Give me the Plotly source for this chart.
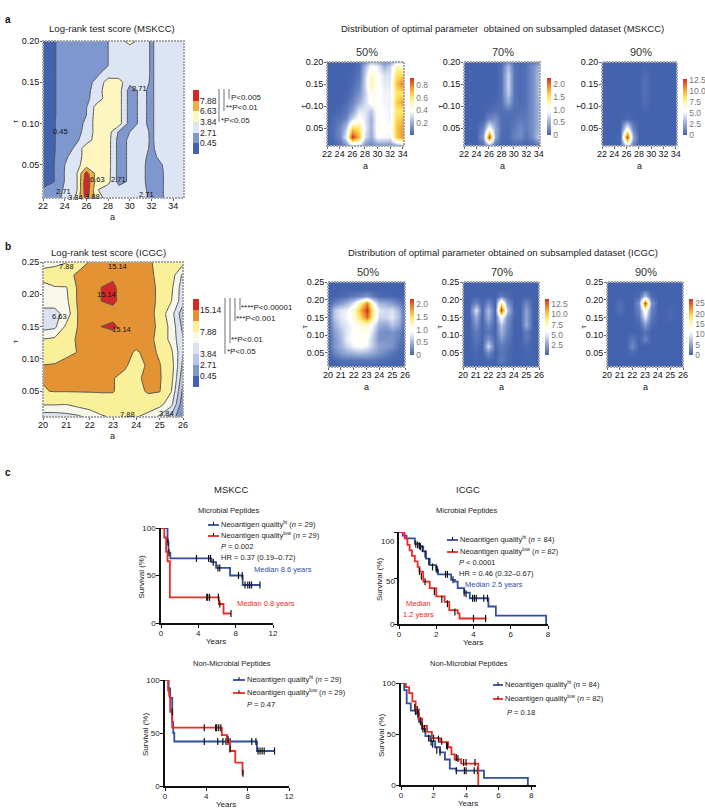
"""Neoantigen quality figure: log-rank score maps, subsampling densities and survival curves."""

import numpy as np
import plotly.graph_objects as go

W, H = 705, 810
FONT = "Liberation Sans"
INK = "#222222"
BLUE = "#2f4f9f"
RED = "#ee2a24"

# Log-rank score maps
MSK_A = list(range(22, 36))
MSK_TAU = [round(0.01 * i, 2) for i in range(1, 21)]
MSK_SCORE = [
    [0.6, 2.0, 2.9, 4.2, 9.5, 5.0, 3.4, 3.2, 3.2, 3.2, 2.2, 2.6, 3.2, 3.2],
    [0.6, 2.0, 2.8, 3.3, 11.0, 4.0, 3.2, 3.2, 3.2, 3.0, 2.2, 2.6, 3.2, 3.2],
    [0.2, 0.35, 2.75, 3.3, 11.0, 5.2, 4.8, 1.8, 2.9, 2.9, 2.2, 2.6, 3.2, 3.2],
    [0.2, 0.4, 2.75, 3.4, 9.5, 5.2, 4.9, 1.8, 2.9, 2.9, 2.2, 2.6, 3.2, 3.2],
    [0.2, 0.4, 2.71, 3.4, 5.2, 5.5, 5.0, 1.8, 2.9, 2.9, 2.2, 2.7, 3.2, 3.2],
    [0.2, 0.35, 2.3, 3.2, 5.0, 5.5, 5.0, 1.8, 2.9, 3.0, 2.2, 3.0, 3.3, 3.3],
    [0.2, 0.35, 1.5, 2.9, 5.5, 5.5, 5.0, 1.8, 2.9, 3.3, 2.3, 3.3, 3.3, 3.3],
    [0.2, 0.35, 1.5, 2.2, 3.3, 5.2, 5.0, 1.8, 2.9, 3.3, 2.4, 3.3, 3.3, 3.3],
    [0.3, 0.35, 1.5, 2.0, 3.0, 5.2, 5.2, 2.4, 2.7, 3.2, 2.4, 3.3, 3.3, 3.3],
    [0.3, 0.35, 1.5, 1.9, 2.9, 5.5, 5.5, 5.0, 1.8, 2.9, 2.4, 3.3, 3.3, 3.3],
    [0.2, 0.3, 1.5, 1.8, 2.7, 5.5, 5.5, 5.0, 1.8, 2.9, 2.4, 3.3, 3.3, 3.3],
    [0.2, 0.3, 1.5, 1.8, 2.6, 5.2, 5.5, 5.0, 1.8, 2.9, 2.4, 3.3, 3.3, 3.3],
    [0.2, 0.3, 1.5, 1.8, 2.2, 3.3, 5.2, 5.0, 1.8, 2.9, 2.4, 3.3, 3.3, 3.3],
    [0.2, 0.3, 1.5, 1.8, 2.0, 3.3, 5.5, 5.0, 1.8, 2.9, 2.4, 3.3, 3.3, 3.3],
    [0.2, 0.3, 1.5, 1.8, 2.0, 3.0, 5.2, 5.0, 3.0, 3.3, 2.4, 3.3, 3.3, 3.3],
    [0.2, 0.3, 1.5, 1.8, 2.0, 2.4, 3.3, 3.3, 3.3, 3.5, 2.4, 3.3, 3.3, 3.3],
    [0.2, 0.3, 1.5, 1.8, 2.0, 2.3, 2.7, 3.3, 3.3, 3.5, 2.4, 3.3, 3.3, 3.3],
    [0.2, 0.3, 1.5, 1.8, 2.0, 2.3, 2.7, 3.3, 3.3, 3.5, 2.4, 3.3, 3.3, 3.3],
    [0.2, 0.3, 1.5, 1.8, 2.0, 2.3, 2.7, 3.3, 3.3, 3.5, 2.4, 3.3, 3.3, 3.3],
    [0.2, 0.3, 1.5, 1.8, 2.0, 2.3, 2.7, 3.4, 5.0, 3.5, 2.4, 3.3, 3.3, 3.3],
]
MSK_LEVELS = [0.45, 2.71, 3.84, 6.63, 7.88]
MSK_TOP = 12
MSK_COLORS = ["#4463ae", "#7f97cf", "#dde4f3", "#fdf6c0", "#edb040", "#d62728"]
MSK_BAR_POS = [0.5, 1.5, 2.5, 3.5, 4.5]
MSK_BAR_LABELS = ["0.45", "2.71", "3.84", "6.63", "7.88"]

ICGC_A = [20 + 0.5 * i for i in range(13)]
ICGC_TAU = [round(0.01 + 0.02 * i, 2) for i in range(13)]
ICGC_SCORE = [
    [5.0, 5.0, 5.5, 6.0, 7.0, 7.7, 8.2, 8.0, 8.0, 7.5, 6.0, 3.5, 0.2],
    [8.2, 8.2, 8.0, 9.0, 9.5, 10.0, 10.0, 10.0, 9.5, 9.5, 9.0, 7.0, 1.0],
    [10.7, 11.0, 11.0, 11.0, 11.0, 11.0, 11.0, 10.0, 10.0, 11.3, 11.0, 8.0, 2.0],
    [11.0, 12.0, 12.0, 12.0, 12.0, 12.0, 11.0, 10.0, 10.5, 11.5, 11.2, 9.0, 3.0],
    [10.9, 11.0, 11.5, 12.0, 12.0, 12.0, 12.0, 11.5, 9.5, 11.5, 11.0, 9.5, 3.5],
    [9.5, 10.0, 10.5, 10.9, 12.0, 12.0, 12.0, 12.0, 10.5, 12.0, 10.5, 8.5, 4.0],
    [8.0, 8.5, 9.5, 11.5, 12.0, 12.0, 12.0, 12.5, 12.5, 12.0, 10.0, 7.5, 4.0],
    [5.5, 6.0, 8.5, 11.0, 12.5, 15.2, 16.5, 13.0, 13.0, 13.0, 10.0, 7.5, 3.5],
    [6.0, 5.5, 7.2, 11.0, 12.5, 13.0, 13.0, 13.0, 13.0, 13.0, 9.5, 7.2, 3.0],
    [7.0, 7.3, 7.6, 11.5, 12.5, 15.2, 16.5, 12.5, 13.0, 13.0, 10.0, 8.0, 5.0],
    [7.5, 7.8, 7.8, 11.5, 12.5, 15.2, 16.5, 12.0, 13.0, 13.0, 10.0, 8.5, 5.0],
    [9.0, 9.5, 10.0, 11.5, 12.5, 14.0, 14.0, 13.0, 13.0, 12.0, 10.0, 9.5, 6.0],
    [7.4, 7.5, 7.8, 9.5, 11.0, 13.0, 14.8, 12.0, 11.5, 11.5, 10.0, 9.5, 9.0],
]
ICGC_LEVELS = [0.45, 2.71, 3.84, 6.63, 7.88, 10.83, 15.14]
ICGC_TOP = 20
ICGC_COLORS = ["#4463ae", "#7f97cf", "#b7c5e6", "#dbe3f3", "#f8f8ea", "#fbf09a", "#e39234", "#d62728"]
ICGC_BAR_POS = [0.5, 1.5, 2.5, 4.5, 6.5]
ICGC_BAR_LABELS = ["0.45", "2.71", "3.84", "7.88", "15.14"]

# Subsampling densities
DENS_MSK_A = list(range(22, 35))
DENS_MSK_TAU = [0.01, 0.03, 0.05, 0.07, 0.09, 0.11, 0.13, 0.15, 0.17, 0.19, 0.21]
MSK_50 = [
    [0, 0, 0.02, 0.08, 0.25, 0.25, 0.1, 0.08, 0.1, 0.1, 0.1, 0.15, 0.2],
    [0, 0.02, 0.1, 0.35, 0.92, 0.7, 0.3, 0.18, 0.38, 0.38, 0.36, 0.66, 0.78],
    [0, 0.03, 0.1, 0.25, 0.65, 0.6, 0.35, 0.2, 0.42, 0.4, 0.38, 0.68, 0.75],
    [0, 0.02, 0.05, 0.1, 0.3, 0.42, 0.33, 0.2, 0.4, 0.38, 0.36, 0.64, 0.7],
    [0, 0, 0.02, 0.05, 0.15, 0.33, 0.33, 0.25, 0.42, 0.38, 0.36, 0.6, 0.6],
    [0, 0, 0, 0.02, 0.08, 0.2, 0.3, 0.42, 0.4, 0.36, 0.36, 0.66, 0.75],
    [0, 0, 0, 0, 0.04, 0.12, 0.28, 0.45, 0.4, 0.36, 0.36, 0.6, 0.62],
    [0, 0, 0, 0, 0.02, 0.08, 0.3, 0.55, 0.4, 0.34, 0.34, 0.68, 0.8],
    [0, 0, 0, 0, 0.01, 0.05, 0.28, 0.52, 0.4, 0.32, 0.32, 0.62, 0.65],
    [0, 0, 0, 0, 0, 0.03, 0.22, 0.4, 0.36, 0.2, 0.28, 0.52, 0.5],
    [0, 0, 0, 0, 0, 0, 0.02, 0.05, 0.04, 0.02, 0.04, 0.05, 0.05],
]
MSK_70 = [
    [0, 0, 0, 0.05, 0.3, 0.05, 0, 0, 0, 0, 0, 0, 0.05],
    [0, 0, 0, 0.35, 2.25, 0.45, 0.05, 0.05, 0.2, 0.25, 0.1, 0.3, 0.7],
    [0, 0, 0, 0.2, 1.0, 0.45, 0.08, 0.05, 0.15, 0.25, 0.15, 0.3, 0.55],
    [0, 0, 0, 0.02, 0.25, 0.3, 0.08, 0.05, 0.1, 0.15, 0.15, 0.3, 0.55],
    [0, 0, 0, 0, 0.05, 0.1, 0.08, 0.1, 0.08, 0.1, 0.12, 0.3, 0.55],
    [0, 0, 0, 0, 0.01, 0.03, 0.1, 0.45, 0.1, 0.05, 0.1, 0.3, 0.55],
    [0, 0, 0, 0, 0, 0.01, 0.08, 0.65, 0.1, 0.05, 0.1, 0.3, 0.6],
    [0, 0, 0, 0, 0, 0, 0.08, 0.7, 0.1, 0.05, 0.1, 0.3, 0.6],
    [0, 0, 0, 0, 0, 0, 0.08, 0.7, 0.1, 0.05, 0.1, 0.3, 0.6],
    [0, 0, 0, 0, 0, 0, 0.08, 0.55, 0.1, 0.05, 0.1, 0.3, 0.5],
    [0, 0, 0, 0, 0, 0, 0, 0, 0, 0, 0, 0, 0],
]
MSK_90 = [
    [0, 0, 0, 0, 4.0, 0.8, 0, 0, 0, 0, 0, 0, 0],
    [0, 0, 0, 0.2, 12.8, 2.5, 0, 0, 0, 0, 0, 0, 0],
    [0, 0, 0, 0.05, 5.5, 1.0, 0, 0, 0, 0, 0, 0, 0],
    [0, 0, 0, 0, 0.3, 0.1, 0, 0, 0, 0, 0, 0, 0],
    [0, 0, 0, 0, 0, 0, 0, 0.1, 0, 0, 0, 0, 0],
    [0, 0, 0, 0, 0, 0, 0, 0.45, 0, 0, 0, 0, 0],
    [0, 0, 0, 0, 0, 0, 0, 0.5, 0, 0, 0, 0, 0],
    [0, 0, 0, 0, 0, 0, 0, 0.5, 0, 0, 0, 0, 0],
    [0, 0, 0, 0, 0, 0, 0, 0.4, 0, 0, 0, 0, 0],
    [0, 0, 0, 0, 0, 0, 0, 0.1, 0, 0, 0, 0, 0],
    [0, 0, 0, 0, 0, 0, 0, 0, 0, 0, 0, 0, 0],
]
DENS_ICGC_A = ICGC_A
DENS_ICGC_TAU = ICGC_TAU
ICGC_50 = [
    [0, 0, 0.02, 0.02, 0.02, 0.02, 0.02, 0.02, 0.02, 0.02, 0, 0, 0],
    [0, 0.02, 0.08, 0.1, 0.1, 0.12, 0.12, 0.12, 0.08, 0.05, 0.03, 0.02, 0],
    [0, 0.2, 0.35, 0.45, 0.5, 0.55, 0.5, 0.4, 0.3, 0.2, 0.1, 0.05, 0],
    [0, 0.3, 0.5, 0.7, 0.9, 0.95, 0.85, 0.6, 0.4, 0.35, 0.3, 0.1, 0],
    [0, 0.3, 0.55, 0.85, 0.95, 1.0, 0.95, 0.6, 0.3, 0.3, 0.3, 0.15, 0],
    [0, 0.35, 0.6, 0.8, 0.95, 1.0, 1.0, 0.7, 0.3, 0.25, 0.3, 0.2, 0],
    [0, 0.45, 0.7, 0.8, 0.95, 1.1, 1.15, 0.85, 0.45, 0.4, 0.6, 0.4, 0],
    [0, 0.6, 0.8, 0.9, 1.15, 1.5, 2.0, 1.3, 0.7, 0.7, 0.8, 0.55, 0],
    [0, 0.6, 0.8, 0.85, 1.2, 1.7, 2.2, 1.3, 0.8, 0.7, 0.75, 0.5, 0],
    [0, 0.2, 0.35, 0.5, 0.8, 1.3, 1.9, 1.0, 0.5, 0.45, 0.35, 0.2, 0],
    [0, 0, 0.03, 0.08, 0.15, 0.2, 0.3, 0.15, 0.05, 0.03, 0.02, 0, 0],
    [0, 0, 0, 0, 0, 0, 0, 0, 0, 0, 0, 0, 0],
    [0, 0, 0, 0, 0, 0, 0, 0, 0, 0, 0, 0, 0],
]
ICGC_70 = [
    [0, 0, 0, 0, 0, 0, 0, 0, 0, 0, 0, 0, 0],
    [0, 0, 0.1, 0, 0.2, 0, 1.0, 0.3, 0, 0, 0.1, 0, 0],
    [0, 0, 0.2, 0, 1.5, 0, 0.8, 0.3, 0, 0, 0.2, 0, 0],
    [0, 0, 0.5, 0, 4.5, 0.2, 1.0, 0.5, 0, 0, 0.3, 0, 0],
    [0, 0, 0.8, 0.1, 2.0, 0.2, 2.0, 0.8, 0, 0, 0.8, 0, 0],
    [0, 0, 1.0, 0.1, 0.8, 0.1, 3.0, 1.2, 0, 0, 1.0, 0, 0],
    [0, 0, 1.8, 0.1, 1.5, 0.1, 3.8, 1.5, 0, 0, 2.8, 0, 0],
    [0, 0, 3.0, 0.1, 3.0, 0.1, 6.5, 2.0, 0.1, 0, 2.5, 0, 0],
    [0, 0, 4.8, 0.1, 3.5, 0.2, 13.8, 4.0, 0.1, 0, 2.5, 0, 0],
    [0, 0, 1.5, 0.1, 1.5, 0.1, 9.0, 2.0, 0, 0, 1.5, 0, 0],
    [0, 0, 0, 0, 0, 0, 1.0, 0.3, 0, 0, 0, 0, 0],
    [0, 0, 0, 0, 0, 0, 0, 0, 0, 0, 0, 0, 0],
    [0, 0, 0, 0, 0, 0, 0, 0, 0, 0, 0, 0, 0],
]
ICGC_90 = [
    [0, 0, 0, 0, 0, 0, 0, 0, 0, 0, 0, 0, 0],
    [0, 0, 0, 0, 0, 0, 0, 0, 0, 0, 0, 0, 0],
    [0, 0, 0, 0, 0.5, 0, 0, 0, 0, 0, 0, 0, 0],
    [0, 0, 0, 0, 3.0, 0, 0, 0, 0, 0, 0, 0, 0],
    [0, 0, 0, 0, 1.5, 0, 2.5, 0, 0, 0, 0, 0, 0],
    [0, 0, 0, 0, 0, 0, 1.0, 0, 0, 0, 0, 0, 0],
    [0, 0, 0, 0, 0, 0.3, 4.0, 0.5, 0, 0, 0, 0, 0],
    [0, 0, 0, 0, 0, 1.5, 10.0, 1.5, 0, 0, 0.5, 0, 0],
    [0, 0, 1.0, 0, 0, 2.5, 14.0, 2.5, 0, 0, 0.5, 0, 0],
    [0, 0, 1.0, 0, 0, 4.0, 27.0, 4.0, 0, 0, 0, 0, 0],
    [0, 0, 0, 0, 0, 0.5, 7.0, 0.5, 0, 0, 0, 0, 0],
    [0, 0, 0, 0, 0, 0, 0, 0, 0, 0, 0, 0, 0],
    [0, 0, 0, 0, 0, 0, 0, 0, 0, 0, 0, 0, 0],
]
TEMP_SCALE = [
    [0, "#4463ae"], [0.22, "#9fb1db"], [0.42, "#ffffff"], [0.55, "#fff8cf"],
    [0.68, "#fde45a"], [0.85, "#ef8a2e"], [1, "#d62f27"],
]

# Survival curves: (years, % surviving) steps, then (years, %) censor ticks
KM_A_HI_X = [0, 0.7, 0.8, 1.0, 5.4, 5.9, 7.4, 8.75, 10.6]
KM_A_HI_Y = [100, 85, 74, 68, 64, 58, 50, 40, 40]
KM_A_HI_CX = [0.75, 0.85, 3.8, 5.1, 5.3, 5.6, 6.1, 6.3, 8.3, 8.7, 9.0, 9.3, 9.5, 9.7, 10.6]
KM_A_HI_CY = [85, 74, 68, 68, 68, 64, 58, 58, 50, 50, 40, 40, 40, 40, 40]
KM_A_LO_X = [0, 0.35, 0.55, 0.7, 0.95, 6.2, 6.7, 7.5]
KM_A_LO_Y = [100, 90, 75, 65, 27, 20, 10, 10]
KM_A_LO_CX = [4.9, 5.0, 5.2, 6.15, 6.3, 7.5]
KM_A_LO_CY = [27, 27, 27, 27, 20, 10]

KM_B_HI_X = [0, 0.2, 0.4, 0.85, 1.1, 1.3, 1.45, 1.65, 2.0, 2.1, 2.8, 3.0, 3.15, 3.5, 3.8, 4.8, 5.2, 7.9, 7.9]
KM_B_HI_Y = [100, 96, 93, 87, 84, 79, 71, 64, 59, 54, 48, 46, 39, 34, 28, 19, 9, 9, 0]
KM_B_HI_CX = [0.9, 1.0, 1.1, 1.15, 1.25, 1.4, 1.6, 1.8, 2.0, 2.05, 2.5, 2.6, 2.9, 3.5, 3.6, 3.95, 4.05, 4.15, 4.55, 4.75]
KM_B_HI_CY = [87, 86, 85, 84, 82, 76, 68, 62, 60, 59, 54, 54, 48, 34, 33, 28, 28, 28, 28, 28]
KM_B_LO_X = [0, 0.3, 0.45, 0.57, 0.7, 0.85, 1.0, 1.1, 1.3, 1.65, 2.0, 2.45, 2.7, 3.15, 3.25, 4.7]
KM_B_LO_Y = [100, 93, 86, 80, 74, 68, 62, 57, 46, 39, 30, 24, 15, 11.5, 6, 6]
KM_B_LO_CX = [1.1, 1.2, 1.4, 1.9, 2.3, 2.6, 3.0, 4.0, 4.65]
KM_B_LO_CY = [57, 52, 46, 35, 27, 22, 13, 6, 6]

KM_C_HI_X = [0, 0.35, 0.5, 0.7, 0.8, 0.9, 1.0, 8.9, 10.6]
KM_C_HI_Y = [100, 92, 83, 60, 50, 42, 42, 33, 33]
KM_C_HI_CX = [3.8, 5.1, 5.6, 5.9, 6.1, 6.3, 8.4, 8.8, 9.0, 9.2, 9.4, 9.6, 10.6]
KM_C_HI_CY = [42, 42, 42, 42, 42, 42, 42, 42, 33, 33, 33, 33, 33]
KM_C_LO_X = [0, 0.3, 0.4, 0.5, 0.7, 0.9, 5.5, 6.0, 6.3, 6.8, 7.5, 7.55]
KM_C_LO_Y = [100, 90, 85, 70, 55, 55, 48, 42, 33, 22, 11, 11]
KM_C_LO_CX = [0.7, 3.8, 4.9, 5.0, 5.2, 5.4, 6.1, 6.3, 7.55]
KM_C_LO_CY = [70, 55, 55, 55, 55, 55, 44, 35, 12]

KM_D_HI_X = [0, 0.2, 0.35, 0.6, 0.9, 1.1, 1.3, 1.5, 1.8, 2.1, 2.4, 2.7, 3.0, 3.4, 5.1, 7.8, 7.8]
KM_D_HI_Y = [100, 93, 80, 73, 70, 62, 55, 48, 43, 37, 32, 25, 16, 14, 7, 7, 0]
KM_D_HI_CX = [0.9, 1.05, 1.2, 1.35, 1.7, 1.85, 1.95, 2.2, 2.4, 3.4, 3.9, 4.0, 4.5, 4.7]
KM_D_HI_CY = [72, 68, 62, 55, 46, 42, 40, 34, 32, 14, 14, 14, 14, 14]
KM_D_LO_X = [0, 0.3, 0.5, 0.7, 0.9, 1.1, 1.3, 1.6, 1.9, 2.4, 2.9, 3.1, 3.3, 3.7, 4.75, 4.75]
KM_D_LO_Y = [100, 96, 90, 82, 74, 65, 58, 52, 46, 42, 37, 30, 25, 21, 21, 0]
KM_D_LO_CX = [0.85, 1.0, 1.05, 1.2, 1.3, 1.45, 2.0, 2.3, 2.5, 2.8, 2.85, 3.4, 3.5, 3.85, 4.0, 4.55]
KM_D_LO_CY = [76, 74, 70, 63, 58, 55, 46, 45, 43, 39, 38, 27, 26, 22, 22, 22]

MSK_MAP_LABELS = [(25.0, 0.011, "3.84"), (23.9, 0.018, "2.71"), (26.6, 0.012, "3.88"), (27.0, 0.032, "6.63"),
                  (29.0, 0.032, "2.71"), (31.5, 0.014, "2.71"), (30.9, 0.142, "2.71"), (23.6, 0.091, "0.45")]
ICGC_MAP_LABELS = [(21.0, 0.243, "7.88"), (23.2, 0.243, "15.14"), (22.7, 0.2, "15.14"), (23.35, 0.145, "15.14"),
                   (20.7, 0.165, "6.63"), (23.6, 0.014, "7.88"), (25.3, 0.016, "3.84")]

axis_count = 0
annotations = []
shapes = []
fig = go.Figure()


def paper_x(x):
    return x / W


def paper_y(y):
    return 1 - y / H


def note(x, y, text, size=8, color=INK, anchor="left", angle=0):
    annotations.append(dict(
        x=paper_x(x), y=paper_y(y), xref="paper", yref="paper", text=text, showarrow=False,
        xanchor=anchor, yanchor="middle", textangle=angle, borderpad=0, borderwidth=0,
        font=dict(size=size, color=color, family=FONT),
    ))


def rule(x0, y0, x1, y1, color="#888888", width=1.2):
    shapes.append(dict(
        type="line", xref="paper", yref="paper", x0=paper_x(x0), x1=paper_x(x1),
        y0=paper_y(y0), y1=paper_y(y1), line=dict(color=color, width=width),
    ))


def frame(box):
    """Dotted Mathematica-style frame round a map panel."""
    shapes.append(dict(
        type="rect", xref="paper", yref="paper", x0=paper_x(box[0]), x1=paper_x(box[2]),
        y0=paper_y(box[3]), y1=paper_y(box[1]), line=dict(color="#a8a8a8", width=2, dash="2px,1px"),
    ))


def new_axes(left, top, right, bottom, x_opts, y_opts):
    """Create an axis pair over a pixel box and return its trace references."""
    global axis_count
    axis_count += 1
    sfx = "" if axis_count == 1 else str(axis_count)
    fig.layout[f"xaxis{sfx}"] = dict(
        domain=[paper_x(left), paper_x(right)], anchor=f"y{sfx}", **x_opts)
    fig.layout[f"yaxis{sfx}"] = dict(
        domain=[paper_y(bottom), paper_y(top)], anchor=f"x{sfx}", **y_opts)
    return f"x{sfx}", f"y{sfx}"


def map_axes(x_range, x_ticks, y_range, y_ticks):
    """Axis options shared by the score maps and density panels."""
    common = dict(
        showgrid=False, zeroline=False, showline=False,
        ticks="outside", ticklen=2, tickcolor="#666666", tickwidth=1,
        tickfont=dict(size=9, color="#111111", family=FONT),
    )
    x_opts = dict(range=x_range, tickvals=x_ticks, ticklabelstandoff=-3, **common)
    y_opts = dict(range=y_range, tickvals=y_ticks, tickformat=".2f", ticklabelstandoff=-1, **common)
    return x_opts, y_opts


def step_scale(colors):
    n = len(colors)
    scale = []
    for i, c in enumerate(colors):
        scale += [[i / n, c], [(i + 1) / n, c]]
    return scale


def score_map(box, a, tau, score, levels, top, colors, x_range, x_ticks, y_range, y_ticks, labels):
    n = len(colors)
    # Bands are drawn on their rank so uneven score levels can be used as contours.
    rank = np.interp(score, [-1] + levels + [top], list(range(n + 1)))
    x_opts, y_opts = map_axes(x_range, x_ticks, y_range, y_ticks)
    xr, yr = new_axes(*box, x_opts, y_opts)
    fig.add_trace(go.Contour(
        x=a, y=tau, z=rank, xaxis=xr, yaxis=yr, showscale=False, zmin=0, zmax=n,
        colorscale=step_scale(colors), autocontour=False,
        contours=dict(start=1, end=n - 1, size=1, coloring="fill"),
        line=dict(color="#555555", width=1, smoothing=0),
    ))
    frame(box)
    for x, y, s in labels:
        annotations.append(dict(x=x, y=y, xref=xr, yref=yr, text=s, showarrow=False,
                                font=dict(size=7.5, color="#111111", family=FONT)))


def band_bar(box, colors, positions, labels):
    """Equal-height colour key with score labels on the band boundaries."""
    n = len(colors)
    xr, yr = new_axes(
        *box,
        dict(visible=False, range=[-0.5, 0.5]),
        dict(
            range=[-0.5, n - 0.5], side="right", showgrid=False, zeroline=False, ticks="",
            tickvals=positions, ticktext=labels,
            tickfont=dict(size=8.5, color=INK, family=FONT),
        ),
    )
    fig.add_trace(go.Heatmap(
        z=[[i] for i in range(n)], x=[0], y=list(range(n)), xaxis=xr, yaxis=yr, showscale=False,
        colorscale=step_scale(colors), zmin=-0.5, zmax=n - 0.5,
    ))


def density(box, a, tau, z, x_range, x_ticks, y_range, y_ticks, bar, bar_ticks, bar_text, zmax):
    x_opts, y_opts = map_axes(x_range, x_ticks, y_range, y_ticks)
    xr, yr = new_axes(*box, x_opts, y_opts)
    fig.add_trace(go.Heatmap(
        x=a, y=tau, z=z, xaxis=xr, yaxis=yr, zsmooth="best", colorscale=TEMP_SCALE, zmin=0, zmax=zmax,
        colorbar=dict(
            x=paper_x(bar[0]), xanchor="left", y=paper_y(bar[2]), yanchor="bottom",
            lenmode="pixels", len=bar[2] - bar[1], thicknessmode="pixels", thickness=bar[3],
            xpad=0, ypad=0, outlinewidth=0, ticks="", tickvals=bar_ticks, ticktext=bar_text,
            tickfont=dict(size=8.5, color="#777777", family=FONT),
        ),
    ))
    frame(box)
    note((box[0] + box[2]) / 2, box[3] + 20, "a", size=9, color="#111111", anchor="center")
    note(box[0] - 24, (box[1] + box[3]) / 2 + 2, "τ", size=8, color="#111111", anchor="center", angle=-90)


def km_panel(box, x_range, x_ticks, hi, lo, y_labels=True):
    common = dict(
        showgrid=False, zeroline=False, showline=True, linecolor="#111111", linewidth=1.6,
        ticks="outside", ticklen=3, tickwidth=1.4, tickcolor="#111111", ticklabelstandoff=-1,
        tickfont=dict(size=8, color=INK, family=FONT),
    )
    xr, yr = new_axes(
        *box,
        dict(range=x_range, tickvals=x_ticks, **common),
        dict(range=[0, 100], tickvals=[0, 50, 100], showticklabels=y_labels, **common),
    )
    for (sx, sy, cx, cy), color in ((hi, BLUE), (lo, RED)):
        fig.add_trace(go.Scatter(
            x=sx, y=sy, mode="lines", xaxis=xr, yaxis=yr, cliponaxis=False, showlegend=False,
            line=dict(color=color, width=1.8, shape="hv"),
        ))
        fig.add_trace(go.Scatter(
            x=cx, y=cy, mode="markers", xaxis=xr, yaxis=yr, cliponaxis=False, showlegend=False,
            marker=dict(symbol="line-ns", size=5, line=dict(color="#111111", width=1.2)),
        ))
    note((box[0] + box[2]) / 2 - 1, box[3] + 18, "Years", anchor="center")
    note(box[0] - 20, (box[1] + box[3]) / 2 + 2, "Survival (%)", anchor="center", angle=-90)


def km_key(left, right, y_hi, y_lo, n_hi, n_lo):
    for y, color, tag, n in ((y_hi, BLUE, "hi", n_hi), (y_lo, RED, "low", n_lo)):
        rule(left, y, right, y, color=color, width=1.8)
        rule((left + right) / 2, y - 3, (left + right) / 2, y, color="#111111", width=1)
        note(right + 2, y - 1, f"Neoantigen quality<sup>{tag}</sup> (<i>n</i> = {n})", size=7.5)


# Panel a
score_map((43, 41, 184, 198), MSK_A, MSK_TAU, MSK_SCORE, MSK_LEVELS, MSK_TOP, MSK_COLORS,
          [22, 35], list(range(22, 35, 2)), [0.01, 0.20], [0.05, 0.10, 0.15, 0.20], MSK_MAP_LABELS)
band_bar((193, 90, 199, 154), MSK_COLORS, MSK_BAR_POS, MSK_BAR_LABELS)
note(112, 29, "Log-rank test score (MSKCC)", size=9.6, anchor="center")
note(112, 217, "a", size=9, anchor="center")
note(16, 121, "τ", size=8, anchor="center", angle=-90)
rule(219, 89, 219, 122)
rule(224, 89, 224, 111)
rule(229, 89, 229, 99)
note(231, 97, "P&lt;0.005", size=8)
note(226, 108, "**P&lt;0.01", size=8)
note(221, 120, "*P&lt;0.05", size=8)

note(502, 29, "Distribution of optimal parameter  obtained on subsampled dataset (MSKCC)", size=9.5, anchor="center")
MSK_BOXES = [(327, 62, 404, 146), (464, 62, 540, 146), (602, 62, 677, 146)]
MSK_BARS = [(410, 78, 135, 4), (547, 78, 135, 4), (683, 79, 135, 4)]
MSK_TICKS = [
    ([0.2, 0.4, 0.6, 0.8], ["0.2", "0.4", "0.6", "0.8"], 0.92),
    ([0, 0.5, 1, 1.5, 2], ["0", "0.5", "1.0", "1.5", "2.0"], 2.25),
    ([0, 2.5, 5, 7.5, 10, 12.5], ["0", "2.5", "5.0", "7.5", "10.0", "12.5"], 12.8),
]
for box, bar, z, (ticks, text, top), pct in zip(MSK_BOXES, MSK_BARS, (MSK_50, MSK_70, MSK_90), MSK_TICKS,
                                                ("50%", "70%", "90%")):
    density(box, DENS_MSK_A, DENS_MSK_TAU, z, [22, 34.2], list(range(22, 35, 2)), [0.01, 0.20],
            [0.05, 0.10, 0.15, 0.20], bar, ticks, text, top)
    note((box[0] + box[2]) / 2 + 1, 52, pct, size=11, color="#333333", anchor="center")

# Panel b
score_map((43, 262, 183, 417), ICGC_A, ICGC_TAU, ICGC_SCORE, ICGC_LEVELS, ICGC_TOP, ICGC_COLORS,
          [20, 26], list(range(20, 27)), [0.01, 0.25], [0.05, 0.10, 0.15, 0.20, 0.25], ICGC_MAP_LABELS)
band_bar((193, 299, 199, 387), ICGC_COLORS, ICGC_BAR_POS, ICGC_BAR_LABELS)
note(108, 252, "Log-rank test score (ICGC)", size=9.6, anchor="center")
note(112, 436, "a", size=9, anchor="center")
note(16, 341, "τ", size=8, anchor="center", angle=-90)
rule(225, 298, 225, 354)
rule(230, 298, 230, 343)
rule(235, 298, 235, 321)
rule(240, 298, 240, 310)
note(241, 307, "****P&lt;0.00001", size=8)
note(236, 318, "***P&lt;0.001", size=8)
note(231, 339, "**P&lt;0.01", size=8)
note(227, 351, "*P&lt;0.05", size=8)

note(503, 252, "Distribution of optimal parameter obtained on subsampled dataset (ICGC)", size=9.5, anchor="center")
ICGC_BOXES = [(328, 282, 405, 367), (463, 282, 539, 367), (607, 282, 683, 367)]
ICGC_BARS = [(410, 299, 355, 4), (545, 299, 355, 4), (689, 299, 355, 4)]
ICGC_TICKS = [
    ([0, 0.5, 1, 1.5, 2], ["0", "0.5", "1.0", "1.5", "2.0"], 2.2),
    ([2.5, 5, 7.5, 10, 12.5], ["2.5", "5.0", "7.5", "10.0", "12.5"], 13.8),
    ([0, 5, 10, 15, 20, 25], ["0", "5", "10", "15", "20", "25"], 27),
]
for box, bar, z, (ticks, text, top), pct in zip(ICGC_BOXES, ICGC_BARS, (ICGC_50, ICGC_70, ICGC_90), ICGC_TICKS,
                                                ("50%", "70%", "90%")):
    density(box, DENS_ICGC_A, DENS_ICGC_TAU, z, [20, 26], list(range(20, 27)), [0.01, 0.25],
            [0.05, 0.10, 0.15, 0.20, 0.25], bar, ticks, text, top)
    note((box[0] + box[2]) / 2 + 1, 272, pct, size=11, color="#333333", anchor="center")

# Panel c
note(231, 489, "MSKCC", size=9.5, anchor="center")
note(468, 489, "ICGC", size=9.5, anchor="center")
note(229, 510, "Microbial Peptides", size=7.5, anchor="center")
note(467, 510, "Microbial Peptides", size=7.5, anchor="center")
note(232, 663, "Non-Microbial Peptides", size=7.5, anchor="center")
note(469, 663, "Non-Microbial Peptides", size=7.5, anchor="center")

km_panel((161, 528, 273, 623), [0, 12], [0, 4, 8, 12],
         (KM_A_HI_X, KM_A_HI_Y, KM_A_HI_CX, KM_A_HI_CY), (KM_A_LO_X, KM_A_LO_Y, KM_A_LO_CX, KM_A_LO_CY))
km_key(208, 219, 525, 536, 29, 29)
note(221, 546, "<i>P</i> = 0.002", size=7.5)
note(221, 557, "HR = 0.37 (0.19–0.72)", size=7.5)
note(254, 569, "Median 8.6 years", size=7.5, color=BLUE)
note(237, 603, "Median 0.8 years", size=7.5, color=RED)

km_panel((399, 532, 548, 624), [0, 8], [0, 2, 4, 6, 8],
         (KM_B_HI_X, KM_B_HI_Y, KM_B_HI_CX, KM_B_HI_CY), (KM_B_LO_X, KM_B_LO_Y, KM_B_LO_CX, KM_B_LO_CY),
         y_labels=False)
note(395, 541, "100", anchor="right")
note(395, 581, "50", anchor="right")
note(395, 624, "0", anchor="right")
km_key(447, 458, 540, 552, 84, 82)
note(459, 562, "<i>P</i> &lt; 0.0001", size=7.5)
note(459, 573, "HR = 0.46 (0.32–0.67)", size=7.5)
note(465, 584, "Median 2.5 years", size=7.5, color=BLUE)
note(418, 603, "Median", size=7.5, color=RED, anchor="center")
note(418, 614, "1.2 years", size=7.5, color=RED, anchor="center")

km_panel((165, 680, 289, 786), [0, 12], [0, 4, 8, 12],
         (KM_C_HI_X, KM_C_HI_Y, KM_C_HI_CX, KM_C_HI_CY), (KM_C_LO_X, KM_C_LO_Y, KM_C_LO_CX, KM_C_LO_CY))
km_key(233, 245, 680, 693, 29, 29)
note(247, 704, "<i>P</i> = 0.47", size=7.5)

km_panel((401, 683, 536, 785), [0, 8.3], [0, 2, 4, 6, 8],
         (KM_D_HI_X, KM_D_HI_Y, KM_D_HI_CX, KM_D_HI_CY), (KM_D_LO_X, KM_D_LO_Y, KM_D_LO_CX, KM_D_LO_CY))
km_key(493, 503, 685, 699, 84, 82)
note(507, 712, "<i>P</i> = 0.18", size=7.5)

note(5, 19, "<b>a</b>", size=10, color="#111111")
note(5, 247, "<b>b</b>", size=10, color="#111111")
note(5, 472, "<b>c</b>", size=10, color="#111111")

fig.update_layout(
    width=W, height=H, margin=dict(l=0, r=0, t=0, b=0, autoexpand=False), paper_bgcolor="white",
    plot_bgcolor="white", showlegend=False, annotations=annotations, shapes=shapes, font=dict(family=FONT),
)
fig.write_html("out.html", config={"displayModeBar": False}, post_script="document.body.style.margin='0';")
